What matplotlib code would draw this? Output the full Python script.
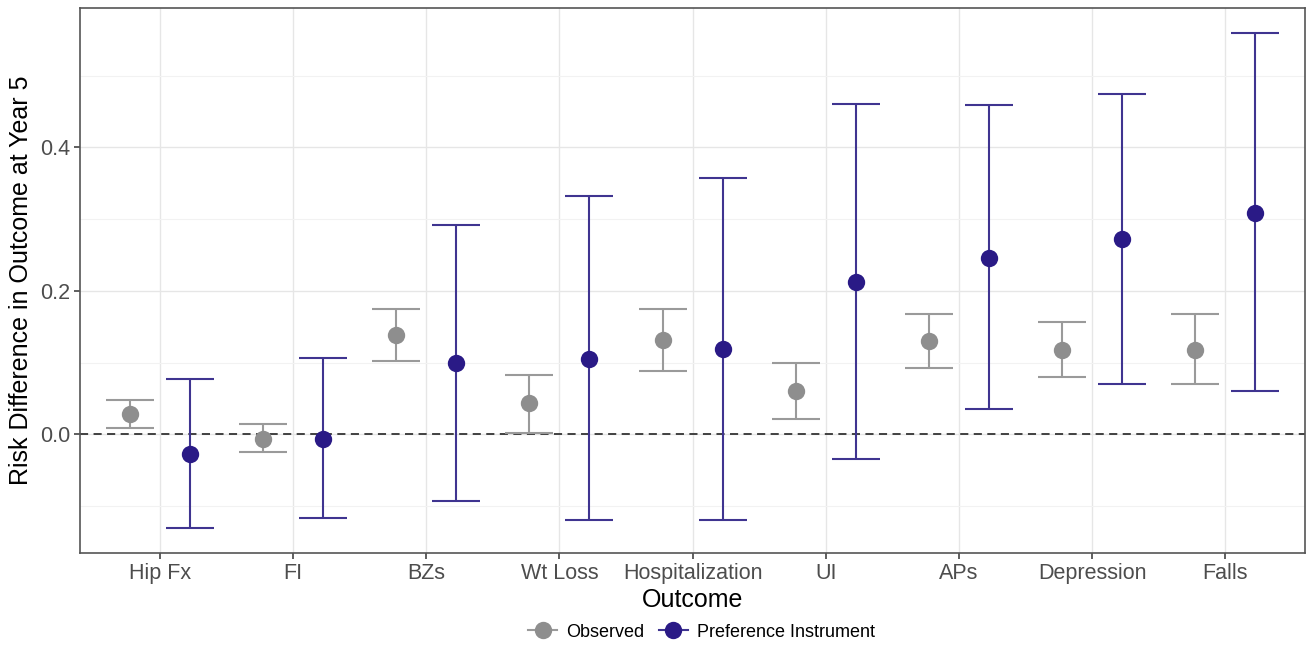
import matplotlib
matplotlib.use("Agg")
import matplotlib.pyplot as plt
from matplotlib.lines import Line2D
from matplotlib.ticker import MultipleLocator
import numpy as np

plt.rcParams["font.family"] = ["Liberation Sans", "DejaVu Sans"]

outcomes = ["Hip Fx", "FI", "BZs", "Wt Loss", "Hospitalization", "UI", "APs",
            "Depression", "Falls"]

obs_est = [0.029, -0.006, 0.139, 0.043, 0.131, 0.061, 0.130, 0.118, 0.118]
obs_lo = [0.009, -0.025, 0.102, 0.002, 0.088, 0.022, 0.093, 0.080, 0.070]
obs_hi = [0.048, 0.015, 0.175, 0.083, 0.175, 0.100, 0.168, 0.156, 0.168]

pi_est = [-0.027, -0.006, 0.100, 0.105, 0.119, 0.213, 0.246, 0.272, 0.309]
pi_lo = [-0.131, -0.117, -0.093, -0.119, -0.119, -0.034, 0.035, 0.070, 0.060]
pi_hi = [0.077, 0.106, 0.292, 0.332, 0.358, 0.461, 0.459, 0.475, 0.560]

series = [
    ("Observed", obs_est, obs_lo, obs_hi, "#8E8E8E", "#9A9A9A", -0.225),
    ("Preference Instrument", pi_est, pi_lo, pi_hi, "#2A1A86", "#3F3490", 0.225),
]

fig = plt.figure(figsize=(13.14, 6.45), dpi=100)
ax = fig.add_axes([0.0609, 0.1426, 0.9323, 0.845])

x = np.arange(len(outcomes))
for name, est, lo, hi, pcol, lcol, off in series:
    est = np.asarray(est)
    yerr = [est - np.asarray(lo), np.asarray(hi) - est]
    ax.errorbar(x + off, est, yerr=yerr, fmt="none", ecolor=lcol,
                elinewidth=1.5, capsize=17, capthick=1.5, zorder=3)
    ax.plot(x + off, est, "o", color=pcol, markersize=12.5, zorder=4,
            markeredgewidth=0)

ax.axhline(0, color="#333333", linestyle=(0, (4.5, 3)), linewidth=1.3, zorder=2)

# Axis limits with a 5% pad on the data range, discrete pad of 0.6
all_vals = obs_lo + obs_hi + pi_lo + pi_hi
lo_v, hi_v = min(all_vals), max(all_vals)
pad = 0.05 * (hi_v - lo_v)
ax.set_ylim(lo_v - pad, hi_v + pad)
ax.set_xlim(-0.6, len(outcomes) - 0.4)

ax.set_xticks(x)
ax.set_xticklabels(outcomes)
ax.yaxis.set_major_locator(MultipleLocator(0.2))
ax.yaxis.set_minor_locator(MultipleLocator(0.1))
ax.set_yticks([0.0, 0.2, 0.4])
ax.set_yticklabels(["0.0", "0.2", "0.4"])

ax.grid(True, which="major", color="#E6E6E6", linewidth=1.0, zorder=0)
ax.grid(True, which="minor", axis="y", color="#F2F2F2", linewidth=0.8, zorder=0)
ax.set_axisbelow(True)

ax.tick_params(axis="both", which="major", labelsize=15.5, labelcolor="#4D4D4D",
               color="#333333", length=4, width=1.1, pad=3)
ax.tick_params(axis="y", which="minor", length=0)
for sp in ax.spines.values():
    sp.set_color("#555555")
    sp.set_linewidth(1.2)

ax.set_xlabel("Outcome", fontsize=18, color="black", labelpad=3)
ax.set_ylabel("Risk Difference in Outcome at Year 5", fontsize=18,
              color="black", labelpad=5)

handles = [Line2D([0], [0], color=s[5], marker="o", markerfacecolor=s[4],
                  markeredgewidth=0, markersize=12.5, linewidth=1.5)
           for s in series]
fig.legend(handles, [s[0] for s in series], loc="center",
           bbox_to_anchor=(0.534, 0.02), ncol=2, frameon=False,
           fontsize=13, handlelength=1.6, handletextpad=0.5,
           columnspacing=0.8)

fig.savefig("out.png", dpi=100)
